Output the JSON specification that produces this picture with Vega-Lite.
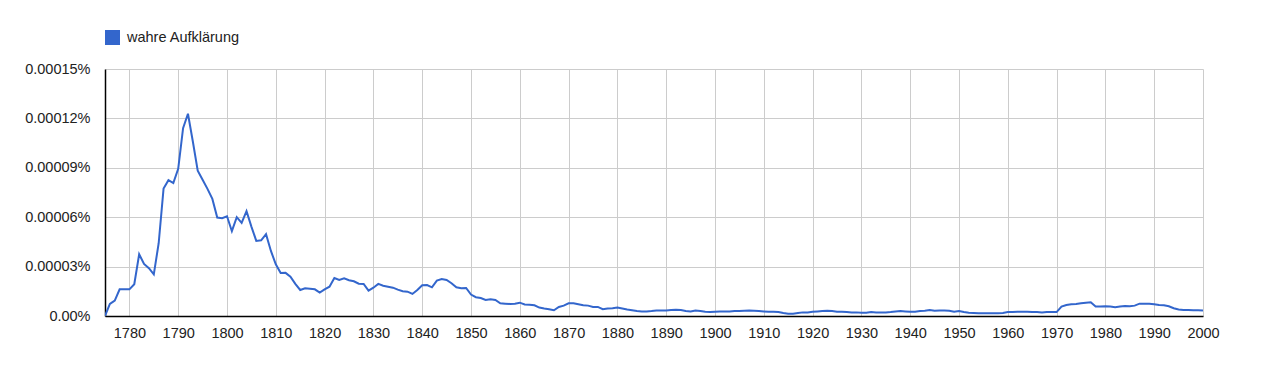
{
  "$schema": "https://vega.github.io/schema/vega-lite/v6.json",
  "autosize": "none",
  "width": 1098,
  "height": 247,
  "padding": {"left": 105, "top": 69, "right": 72, "bottom": 66},
  "background": "white",
  "config": {
    "view": {"stroke": null},
    "font": "Liberation Sans"
  },
  "data": {
    "values": [
      {"year":1775,"u":0},{"year":1776,"u":0.73},{"year":1777,"u":0.93},{"year":1778,"u":1.62},{"year":1779,"u":1.62},
      {"year":1780,"u":1.62},{"year":1781,"u":1.93},{"year":1782,"u":3.75},{"year":1783,"u":3.16},{"year":1784,"u":2.9},
      {"year":1785,"u":2.53},{"year":1786,"u":4.42},{"year":1787,"u":7.74},{"year":1788,"u":8.25},{"year":1789,"u":8.07},
      {"year":1790,"u":8.94},{"year":1791,"u":11.41},{"year":1792,"u":12.28},{"year":1793,"u":10.6},{"year":1794,"u":8.83},
      {"year":1795,"u":8.27},{"year":1796,"u":7.72},{"year":1797,"u":7.11},{"year":1798,"u":5.98},{"year":1799,"u":5.94},
      {"year":1800,"u":6.06},{"year":1801,"u":5.15},{"year":1802,"u":6.0},{"year":1803,"u":5.65},{"year":1804,"u":6.37},
      {"year":1805,"u":5.43},{"year":1806,"u":4.56},{"year":1807,"u":4.6},{"year":1808,"u":4.97},{"year":1809,"u":3.95},
      {"year":1810,"u":3.14},{"year":1811,"u":2.61},{"year":1812,"u":2.62},{"year":1813,"u":2.39},{"year":1814,"u":1.95},
      {"year":1815,"u":1.58},{"year":1816,"u":1.68},{"year":1817,"u":1.66},{"year":1818,"u":1.62},{"year":1819,"u":1.42},
      {"year":1820,"u":1.62},{"year":1821,"u":1.78},{"year":1822,"u":2.31},{"year":1823,"u":2.19},{"year":1824,"u":2.29},
      {"year":1825,"u":2.17},{"year":1826,"u":2.11},{"year":1827,"u":1.96},{"year":1828,"u":1.95},{"year":1829,"u":1.54},
      {"year":1830,"u":1.72},{"year":1831,"u":1.95},{"year":1832,"u":1.84},{"year":1833,"u":1.78},{"year":1834,"u":1.72},
      {"year":1835,"u":1.6},{"year":1836,"u":1.5},{"year":1837,"u":1.48},{"year":1838,"u":1.34},{"year":1839,"u":1.58},
      {"year":1840,"u":1.87},{"year":1841,"u":1.88},{"year":1842,"u":1.74},{"year":1843,"u":2.15},{"year":1844,"u":2.25},
      {"year":1845,"u":2.19},{"year":1846,"u":1.99},{"year":1847,"u":1.74},{"year":1848,"u":1.68},{"year":1849,"u":1.7},
      {"year":1850,"u":1.3},{"year":1851,"u":1.14},{"year":1852,"u":1.09},{"year":1853,"u":0.97},{"year":1854,"u":1.01},
      {"year":1855,"u":0.97},{"year":1856,"u":0.77},{"year":1857,"u":0.75},{"year":1858,"u":0.73},{"year":1859,"u":0.75},
      {"year":1860,"u":0.81},{"year":1861,"u":0.7},{"year":1862,"u":0.69},{"year":1863,"u":0.65},{"year":1864,"u":0.51},
      {"year":1865,"u":0.45},{"year":1866,"u":0.41},{"year":1867,"u":0.35},{"year":1868,"u":0.55},{"year":1869,"u":0.63},
      {"year":1870,"u":0.77},{"year":1871,"u":0.77},{"year":1872,"u":0.71},{"year":1873,"u":0.65},{"year":1874,"u":0.63},
      {"year":1875,"u":0.55},{"year":1876,"u":0.55},{"year":1877,"u":0.41},{"year":1878,"u":0.45},{"year":1879,"u":0.47},
      {"year":1880,"u":0.51},{"year":1881,"u":0.45},{"year":1882,"u":0.39},{"year":1883,"u":0.35},{"year":1884,"u":0.3},
      {"year":1885,"u":0.28},{"year":1886,"u":0.28},{"year":1887,"u":0.3},{"year":1888,"u":0.34},{"year":1889,"u":0.34},
      {"year":1890,"u":0.34},{"year":1891,"u":0.36},{"year":1892,"u":0.38},{"year":1893,"u":0.36},{"year":1894,"u":0.3},
      {"year":1895,"u":0.28},{"year":1896,"u":0.34},{"year":1897,"u":0.3},{"year":1898,"u":0.26},{"year":1899,"u":0.24},
      {"year":1900,"u":0.26},{"year":1901,"u":0.28},{"year":1902,"u":0.28},{"year":1903,"u":0.28},{"year":1904,"u":0.3},
      {"year":1905,"u":0.3},{"year":1906,"u":0.32},{"year":1907,"u":0.34},{"year":1908,"u":0.32},{"year":1909,"u":0.3},
      {"year":1910,"u":0.28},{"year":1911,"u":0.26},{"year":1912,"u":0.26},{"year":1913,"u":0.24},{"year":1914,"u":0.18},
      {"year":1915,"u":0.14},{"year":1916,"u":0.14},{"year":1917,"u":0.18},{"year":1918,"u":0.22},{"year":1919,"u":0.22},
      {"year":1920,"u":0.26},{"year":1921,"u":0.28},{"year":1922,"u":0.3},{"year":1923,"u":0.32},{"year":1924,"u":0.3},
      {"year":1925,"u":0.26},{"year":1926,"u":0.26},{"year":1927,"u":0.24},{"year":1928,"u":0.22},{"year":1929,"u":0.22},
      {"year":1930,"u":0.2},{"year":1931,"u":0.2},{"year":1932,"u":0.24},{"year":1933,"u":0.22},{"year":1934,"u":0.22},
      {"year":1935,"u":0.22},{"year":1936,"u":0.24},{"year":1937,"u":0.28},{"year":1938,"u":0.3},{"year":1939,"u":0.28},
      {"year":1940,"u":0.26},{"year":1941,"u":0.26},{"year":1942,"u":0.3},{"year":1943,"u":0.32},{"year":1944,"u":0.36},
      {"year":1945,"u":0.32},{"year":1946,"u":0.34},{"year":1947,"u":0.34},{"year":1948,"u":0.32},{"year":1949,"u":0.26},
      {"year":1950,"u":0.3},{"year":1951,"u":0.24},{"year":1952,"u":0.2},{"year":1953,"u":0.18},{"year":1954,"u":0.16},
      {"year":1955,"u":0.16},{"year":1956,"u":0.16},{"year":1957,"u":0.16},{"year":1958,"u":0.16},{"year":1959,"u":0.18},
      {"year":1960,"u":0.24},{"year":1961,"u":0.24},{"year":1962,"u":0.26},{"year":1963,"u":0.26},{"year":1964,"u":0.26},
      {"year":1965,"u":0.24},{"year":1966,"u":0.24},{"year":1967,"u":0.22},{"year":1968,"u":0.24},{"year":1969,"u":0.24},
      {"year":1970,"u":0.24},{"year":1971,"u":0.57},{"year":1972,"u":0.67},{"year":1973,"u":0.71},{"year":1974,"u":0.73},
      {"year":1975,"u":0.77},{"year":1976,"u":0.81},{"year":1977,"u":0.83},{"year":1978,"u":0.57},{"year":1979,"u":0.57},
      {"year":1980,"u":0.59},{"year":1981,"u":0.57},{"year":1982,"u":0.53},{"year":1983,"u":0.57},{"year":1984,"u":0.61},
      {"year":1985,"u":0.59},{"year":1986,"u":0.63},{"year":1987,"u":0.75},{"year":1988,"u":0.75},{"year":1989,"u":0.75},
      {"year":1990,"u":0.71},{"year":1991,"u":0.67},{"year":1992,"u":0.65},{"year":1993,"u":0.59},{"year":1994,"u":0.47},
      {"year":1995,"u":0.39},{"year":1996,"u":0.37},{"year":1997,"u":0.37},{"year":1998,"u":0.35},{"year":1999,"u":0.35},
      {"year":2000,"u":0.33}
    ]
  },
  "transform": [
    {"calculate": "datum.u * 0.00001", "as": "value"},
    {"calculate": "'wahre Aufklärung'", "as": "term"}
  ],
  "mark": {"type": "line", "strokeWidth": 2, "interpolate": "linear", "clip": true},
  "encoding": {
    "x": {
      "field": "year", "type": "quantitative",
      "scale": {"domain": [1775, 2000], "nice": false, "zero": false},
      "axis": {
        "title": null, "values": [1780,1790,1800,1810,1820,1830,1840,1850,1860,1870,1880,1890,1900,1910,1920,1930,1940,1950,1960,1970,1980,1990,2000],
        "format": "d", "ticks": false, "domainColor": "#000000", "domainWidth": 1.5,
        "gridColor": "#cccccc", "gridWidth": 1, "labelFontSize": 14.5, "labelColor": "#222222",
        "labelPadding": 10, "labelFont": "Liberation Sans", "labelFlush": false
      }
    },
    "y": {
      "field": "value", "type": "quantitative",
      "scale": {"domain": [0, 0.00015], "nice": false},
      "axis": {
        "title": null, "values": [0, 0.00003, 0.00006, 0.00009, 0.00012, 0.00015],
        "labelExpr": "datum.value == 0 ? '0.00%' : format(datum.value, '.5f') + '%'",
        "ticks": false, "domainColor": "#000000", "domainWidth": 1.5,
        "gridColor": "#cccccc", "gridWidth": 1, "labelFontSize": 14.5, "labelColor": "#222222",
        "labelPadding": 15, "labelFont": "Liberation Sans"
      }
    },
    "color": {
      "field": "term", "type": "nominal",
      "scale": {"range": ["#3366cc"]},
      "legend": {
        "title": null, "orient": "none", "legendX": 0, "legendY": -39,
        "symbolType": "square", "symbolSize": 225, "symbolStrokeWidth": 0,
        "symbolFillColor": "#3366cc", "labelFontSize": 14.5, "labelColor": "#222222",
        "labelFont": "Liberation Sans", "symbolOffset": 0, "labelOffset": 7
      }
    }
  }
}
